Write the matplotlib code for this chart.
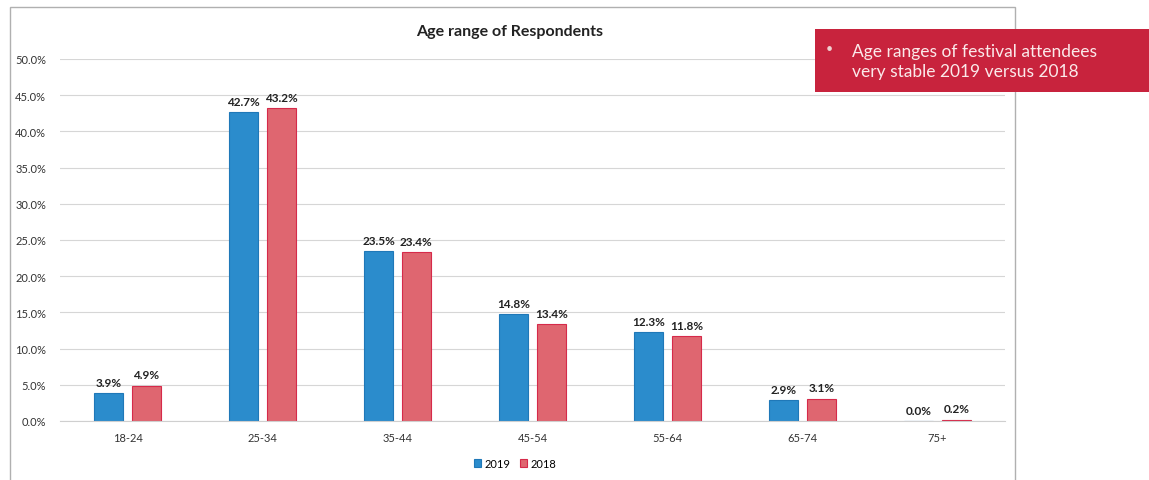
import matplotlib.pyplot as plt
import matplotlib.patches as patches
import numpy as np

categories = ["18-24", "25-34", "35-44", "45-54", "55-64", "65-74", "75+"]
values_2019 = [3.9, 42.7, 23.5, 14.8, 12.3, 2.9, 0.0]
values_2018 = [4.9, 43.2, 23.4, 13.4, 11.8, 3.1, 0.2]
yticks = [0, 5, 10, 15, 20, 25, 30, 35, 40, 45, 50]

plt.rcParams["font.family"] = ["Lato", "DejaVu Sans"]

W, H = 1149, 481
fig = plt.figure(figsize=(W / 100, H / 100), dpi=100)
fig.patch.set_facecolor("white")

# marco del grafico
fig.patches.append(patches.Rectangle((10 / W, -0.01), 1005 / W, 1 - 8 / H + 0.01,
                                     transform=fig.transFigure, fill=False,
                                     edgecolor="#b0b0b0", linewidth=1.0))

ax = fig.add_axes([60 / W, 1 - 422 / H, 945 / W, 362 / H])
x = np.arange(len(categories))
w = 0.22
off = 0.14
blue = "#2b8ccc"
red = "#df6670"
b1 = ax.bar(x - off, values_2019, w, color=blue, edgecolor="#1f78b8", linewidth=0.8, label="2019")
b2 = ax.bar(x + off, values_2018, w, color=red, edgecolor="#d62a4a", linewidth=0.8, label="2018")

for xi, v in zip(x, values_2019):
    ax.text(xi - off, v + 0.7, f"{v:.1f}%", ha="center", va="bottom", fontsize=8.5,
            fontweight="bold", color="#222222")
for xi, v in zip(x, values_2018):
    ax.text(xi + off, v + 0.7, f"{v:.1f}%", ha="center", va="bottom", fontsize=8.5,
            fontweight="bold", color="#222222")

ax.set_xlim(-0.5, len(categories) - 0.5)
ax.set_ylim(0, 50)
ax.set_yticks(yticks)
ax.set_yticklabels([f"{t:.1f}%" for t in yticks], fontsize=8, color="#333333")
ax.set_xticks(x)
ax.set_xticklabels(categories, fontsize=8, color="#333333")
ax.tick_params(length=0, pad=8)
ax.tick_params(axis="y", pad=10)
ax.grid(axis="y", color="#d6d6d6", linewidth=0.8)
ax.set_axisbelow(True)
for s in ["top", "right", "left"]:
    ax.spines[s].set_visible(False)
ax.spines["bottom"].set_color("#cfcfcf")

fig.text(510 / W, 1 - 32 / H, "Age range of Respondents", ha="center", va="center",
         fontsize=11.5, fontweight="bold", color="#222222")

fig.legend(handles=[b1, b2], loc="center", bbox_to_anchor=(515 / W, 1 - 464 / H), ncol=2,
           frameon=False, fontsize=8, handlelength=0.7, handleheight=0.7,
           handletextpad=0.3, columnspacing=0.8)

# recuadro rojo
fig.patches.append(patches.Rectangle((815 / W, 1 - 93 / H), (W - 815) / W, 63 / H,
                                     transform=fig.transFigure, facecolor="#c8233d",
                                     edgecolor="none"))
fig.text(829 / W, 1 - 49 / H, "\u2022", ha="center", va="center", fontsize=9, color="#f0d0d0")
fig.text(852 / W, 1 - 62 / H, "Age ranges of festival attendees\nvery stable 2019 versus 2018",
         ha="left", va="center", fontsize=12.5, color="#fbe9ea", linespacing=1.35)

fig.savefig("out.png", dpi=100)
